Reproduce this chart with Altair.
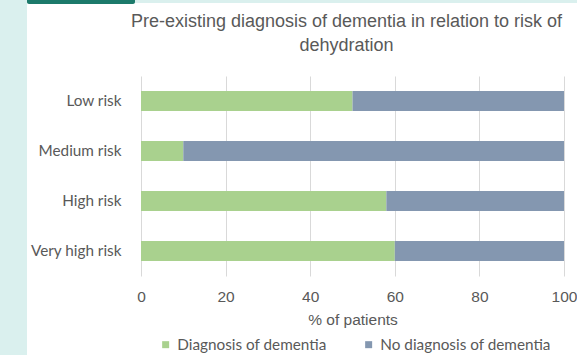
import altair as alt
import pandas as pd

categories = ["Low risk", "Medium risk", "High risk", "Very high risk"]
dementia = [50, 10, 58, 60]
no_dementia = [50, 90, 42, 40]
series_names = ["Diagnosis of dementia", "No diagnosis of dementia"]
series_colors = ["#a9d18e", "#8497b0"]
x_ticks = [0, 20, 40, 60, 80, 100]

rows = []
for c, a, b in zip(categories, dementia, no_dementia):
    rows.append({"risk": c, "series": series_names[0], "pct": a, "ord": 0})
    rows.append({"risk": c, "series": series_names[1], "pct": b, "ord": 1})
df = pd.DataFrame(rows)

LABEL_COLOR = "#595959"
TEAL_BG = "#daf0ee"

# decorative page frame (teal strips + top tab), outside the text areas
left_strip = alt.Chart(alt.Data(values=[{}])).mark_rect(fill=TEAL_BG).encode(
    x=alt.value(-141), x2=alt.value(-114), y=alt.value(-76), y2=alt.value(279)
)
top_strip = alt.Chart(alt.Data(values=[{}])).mark_rect(fill=TEAL_BG).encode(
    x=alt.value(-141), x2=alt.value(436), y=alt.value(-76), y2=alt.value(-73)
)
tab = alt.Chart(alt.Data(values=[{}])).mark_rect(
    fill="#1c7a6b", cornerRadiusBottomLeft=4, cornerRadiusBottomRight=4
).encode(
    x=alt.value(-114), x2=alt.value(-6), y=alt.value(-76), y2=alt.value(-72)
)

bars = alt.Chart(df).mark_bar(size=20).encode(
    y=alt.Y("risk:N", sort=categories, title=None,
            axis=alt.Axis(labelFont="Lato", labelFontSize=15.3, labelColor=LABEL_COLOR,
                          labelPadding=20, ticks=False, domain=False, grid=False)),
    x=alt.X("pct:Q", stack="zero", scale=alt.Scale(domain=[0, 100], nice=False),
            title="% of patients",
            axis=alt.Axis(values=x_ticks, labelFont="Liberation Sans", labelFontSize=15.5,
                          labelColor=LABEL_COLOR, labelPadding=13, labelFlush=False,
                          ticks=False, domain=False,
                          grid=True, gridColor="#d9d9d9", gridWidth=1,
                          titleFont="Liberation Sans", titleFontSize=15.5, titleFontWeight="normal",
                          titleColor=LABEL_COLOR, titlePadding=8)),
    color=alt.Color("series:N", scale=alt.Scale(domain=series_names, range=series_colors),
                    legend=alt.Legend(title=None, orient="none", direction="horizontal",
                                      legendX=17, legendY=261, symbolType="square",
                                      symbolSize=49, symbolStrokeWidth=0,
                                      labelFont="Lato", labelFontSize=15.3,
                                      labelColor=LABEL_COLOR, columnPadding=34,
                                      labelOffset=4, symbolOpacity=1, labelLimit=300)),
    order=alt.Order("ord:Q"),
)

chart = alt.layer(left_strip, top_strip, tab, bars).properties(
    width=423, height=200,
    title=alt.TitleParams(
        text=["Pre-existing diagnosis of dementia in relation to risk of", "dehydration"],
        font="Liberation Sans", fontSize=18, fontWeight="normal", color=LABEL_COLOR,
        anchor="middle", frame="group", lineHeight=24, offset=-55, dx=-6,
    ),
    autosize=alt.AutoSizeParams(type="none"),
    padding={"left": 141, "top": 76, "right": 13, "bottom": 79},
    background="white",
).configure_view(stroke=None)

chart.save("out.html", embed_options={"renderer": "svg", "actions": False})
